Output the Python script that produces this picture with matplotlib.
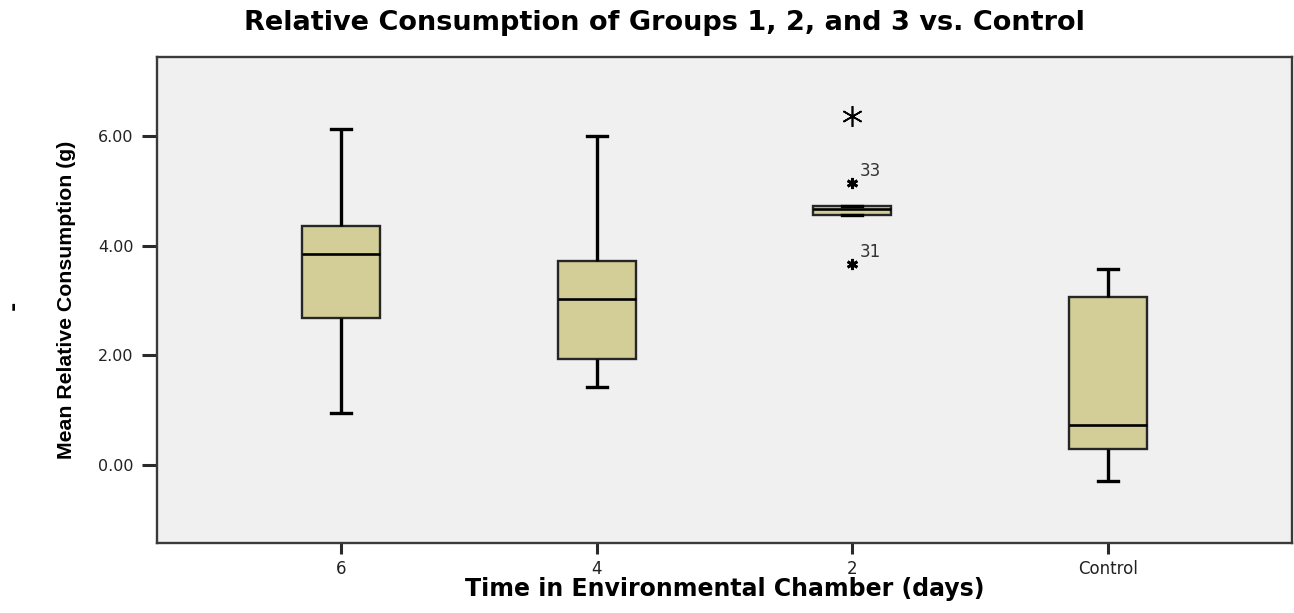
import matplotlib
matplotlib.use("Agg")
import matplotlib.pyplot as plt

# ---- data ----
categories = ["6", "4", "2", "Control"]
whisker_low = [0.95, 1.42, 4.56, -0.29]
q1_vals = [2.68, 1.93, 4.56, 0.29]
median_vals = [3.85, 3.03, 4.67, 0.73]
q3_vals = [4.36, 3.72, 4.73, 3.07]
whisker_high = [6.13, 6.01, 4.73, 3.58]

# outliers (labelled cases) and extreme value for group "2"
outlier_group = [2, 2]
outlier_vals = [5.15, 3.67]
outlier_ids = ["33", "31"]
extreme_group = [2]
extreme_vals = [6.36]

yticks = [0, 2, 4, 6]
ytick_labels = ["0.00", "2.00", "4.00", "6.00"]

title = "Relative Consumption of Groups 1, 2, and 3 vs. Control"
xlabel = "Time in Environmental Chamber (days)"
ylabel = "Mean Relative Consumption (g)"

# ---- figure ----
W, H = 1294, 613
fig = plt.figure(figsize=(W / 100, H / 100), dpi=100)
fig.patch.set_facecolor("white")
L, R, T, B = 157, 1292, 57, 543
ax = fig.add_axes([L / W, (H - B) / H, (R - L) / W, (B - T) / H])
ax.set_facecolor("#F0F0F0")

stats = []
for i, c in enumerate(categories):
    stats.append(dict(label=c, whislo=whisker_low[i], q1=q1_vals[i], med=median_vals[i],
                      q3=q3_vals[i], whishi=whisker_high[i], fliers=[]))

positions = list(range(len(categories)))
ax.bxp(stats, positions=positions, widths=0.305, patch_artist=True, showfliers=False,
       capwidths=0.078,
       boxprops=dict(facecolor="#D3CE97", edgecolor="#262626", linewidth=1.7),
       medianprops=dict(color="black", linewidth=1.9),
       whiskerprops=dict(color="black", linewidth=2.4, solid_capstyle="butt"),
       capprops=dict(color="black", linewidth=2.4))

# outliers: small bold asterisks with case labels
ax.plot(outlier_group, outlier_vals, linestyle="none", marker=(6, 2, 0),
        markersize=8, markeredgewidth=2.0, color="black", zorder=5)
for g, v, lab in zip(outlier_group, outlier_vals, outlier_ids):
    ax.annotate(lab, (g, v), xytext=(5, 5), textcoords="offset points",
                fontsize=12, color="#333333", family="DejaVu Sans")
# extreme value: large thin asterisk
ax.plot(extreme_group, extreme_vals, linestyle="none", marker=(6, 2, 0),
        markersize=15, markeredgewidth=1.2, color="black", zorder=5)

ax.set_xlim(-0.72, 3.72)
ax.set_ylim(-1.423, 7.445)
ax.set_xticks(positions)
ax.set_xticklabels(categories, fontsize=12, family="DejaVu Sans", color="#222222")
ax.set_yticks(yticks)
ax.set_yticklabels(ytick_labels, fontsize=11.5, family="DejaVu Sans", color="#222222")
ax.tick_params(axis="x", length=8, width=2.2, pad=4, color="#2a2a2a")
ax.tick_params(axis="y", length=11, width=2.2, pad=6, color="#2a2a2a")

for s in ax.spines.values():
    s.set_linewidth(1.7)
    s.set_color("#3a3a3a")

ax.set_xlabel(xlabel, fontsize=17, fontweight="bold", family="DejaVu Sans")
ax.xaxis.label.set_va("baseline")
ax.xaxis.set_label_coords(0.5, -(596 - B) / (B - T))

ax.set_ylabel(ylabel, fontsize=15.3, fontweight="bold", family="Liberation Sans")
ax.yaxis.label.set_va("center")
ax.yaxis.set_label_coords((67 - L) / (R - L), 0.5)

fig.text(664 / W, 1 - 30 / H, title, ha="center", va="baseline",
         fontsize=19.5, fontweight="bold", family="DejaVu Sans")

# stray mark at the far left
fig.text(14 / W, 1 - 305 / H, "-", rotation=90, ha="center", va="center",
         fontsize=16, fontweight="bold", family="DejaVu Sans")

fig.savefig("out.png", dpi=100)
